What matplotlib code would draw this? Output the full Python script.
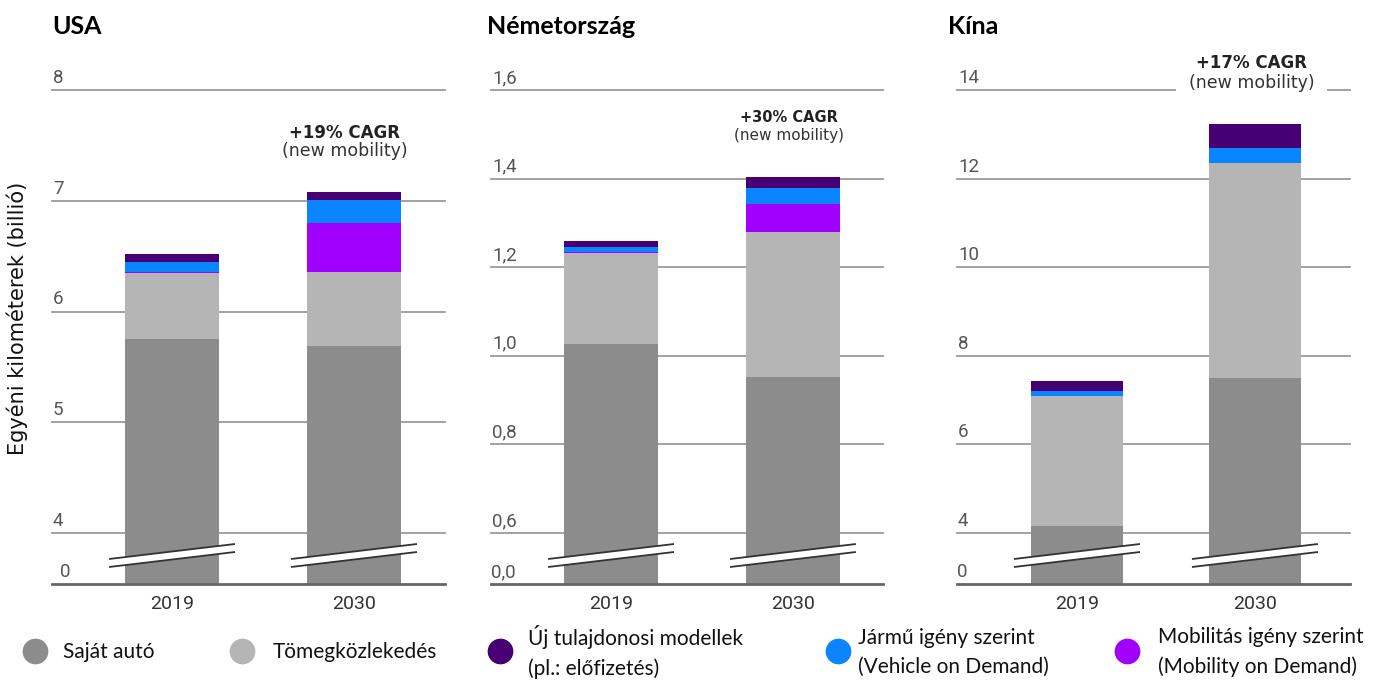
import numpy as np
import matplotlib
matplotlib.use('Agg')
import matplotlib.pyplot as plt

W, H, DPI = 1375, 693, 100

# ---------------- data ----------------
years = ['2019', '2030']
titles = ['USA', 'Németország', 'Kína']
cagr_labels = ['+19% CAGR', '+30% CAGR', '+17% CAGR']
cagr_sub = '(new mobility)'

legend_labels = ['Saját autó', 'Tömegközlekedés',
                 'Új tulajdonosi modellek\n(pl.: előfizetés)',
                 'Jármű igény szerint\n(Vehicle on Demand)',
                 'Mobilitás igény szerint\n(Mobility on Demand)']

usa_own = [5.75, 5.69]
usa_public = [0.60, 0.67]
usa_mod = [0.01, 0.44]
usa_vod = [0.09, 0.21]
usa_newown = [0.07, 0.07]

ger_own = [1.027, 0.953]
ger_public = [0.205, 0.326]
ger_mod = [0.002, 0.063]
ger_vod = [0.011, 0.036]
ger_newown = [0.014, 0.025]

chn_own = [4.16, 7.51]
chn_public = [2.94, 4.85]
chn_mod = [0.0, 0.0]
chn_vod = [0.11, 0.34]
chn_newown = [0.21, 0.54]

usa_ticks = [0, 4, 5, 6, 7, 8]
usa_ticklabels = ['0', '4', '5', '6', '7', '8']
ger_ticks = [0, 0.6, 0.8, 1.0, 1.2, 1.4, 1.6]
ger_ticklabels = ['0,0', '0,6', '0,8', '1,0', '1,2', '1,4', '1,6']
chn_ticks = [0, 4, 6, 8, 10, 12, 14]
chn_ticklabels = ['0', '4', '6', '8', '10', '12', '14']

# ---------------- style ----------------
C_OWN = '#8c8c8c'
C_PUB = '#b5b5b5'
C_NEW = '#460073'
C_VOD = '#0a84ff'
C_MOD = '#a100ff'
GRID = '#9a9a9a'

fig = plt.figure(figsize=(W / DPI, H / DPI), dpi=DPI)


def px_axes(l, r, t, b):
    return fig.add_axes([l / W, 1 - b / H, (r - l) / W, (b - t) / H])


def make_scale(b, r):
    def fwd(v):
        v = np.asarray(v, dtype=float)
        return np.where(v >= b, v, b - (b - v) * r)

    def inv(u):
        u = np.asarray(u, dtype=float)
        return np.where(u >= b, u, b - (b - u) / r)
    return fwd, inv


panels = [
    dict(box=(52, 445), xlim=(-0.66, 1.5), ticks=usa_ticks, labels=usa_ticklabels,
         stack=[usa_own, usa_public, usa_mod, usa_vod, usa_newown],
         cagr=cagr_labels[0], cx=0.95, cfs=12, cy=(7.61, 7.45), zdx=8, bbox=False,
         title=titles[0], tx=52, bhw=0.346),
    dict(box=(491, 883), xlim=(-0.66, 1.495), ticks=ger_ticks, labels=ger_ticklabels,
         stack=[ger_own, ger_public, ger_mod, ger_vod, ger_newown],
         cagr=cagr_labels[1], cx=0.98, cfs=10.5, cy=(1.538, 1.497), zdx=0, bbox=False,
         title=titles[1], tx=487, bhw=0.346),
    dict(box=(957, 1350), xlim=(-0.674, 1.534), ticks=chn_ticks, labels=chn_ticklabels,
         stack=[chn_own, chn_public, chn_mod, chn_vod, chn_newown],
         cagr=cagr_labels[2], cx=0.98, cfs=12, cy=(14.6, 14.15), zdx=0, bbox=True,
         title=titles[2], tx=948, bhw=0.354),
]
colors = [C_OWN, C_PUB, C_MOD, C_VOD, C_NEW]

TOP_PX, BREAK_PX, BASE_PX = 90, 533, 584
ZONE = BASE_PX - BREAK_PX

for p in panels:
    l, r = p['box']
    ax = px_axes(l, r, TOP_PX, BASE_PX)
    ticks = p['ticks']
    b = ticks[1]
    top = ticks[-1]
    comp = (top - b) * ZONE / (BREAK_PX - TOP_PX)
    ratio = comp / b
    ax.set_yscale('function', functions=make_scale(b, ratio))
    x = np.arange(len(years))
    bottom = np.zeros(len(years))
    for vals, col in zip(p['stack'], colors):
        vals = np.asarray(vals, dtype=float)
        ax.bar(x, vals, width=0.52, bottom=bottom, color=col, linewidth=0, zorder=2)
        bottom = bottom + vals
    for t in ticks[1:]:
        ax.axhline(t, color=GRID, lw=1.3, zorder=1, clip_on=False)
    ax.axhline(0, color='#666666', lw=2.0, zorder=3, clip_on=False)
    for t, lab in zip(ticks, p['labels']):
        dx = p['zdx'] if t == 0 else 1
        ax.annotate(lab, xy=(0, t), xycoords=('axes fraction', 'data'),
                    xytext=(dx, 7), textcoords='offset pixels', ha='left', va='baseline',
                    fontsize=13.5, color='#555555', family='Roboto', annotation_clip=False)
    # axis break marks
    hw = p['bhw']
    for xc in x:
        xs = [xc - hw, xc + hw]
        up = [b * 25 / ZONE, b * 40 / ZONE]
        lo = [b * 17 / ZONE, b * 32 / ZONE]
        ax.fill([xs[0], xs[1], xs[1], xs[0]], [lo[0], lo[1], up[1], up[0]],
                color='white', lw=0, zorder=4, clip_on=False)
        ax.plot(xs, up, color='#333333', lw=1.3, zorder=5, clip_on=False, solid_capstyle='butt')
        ax.plot(xs, lo, color='#333333', lw=1.3, zorder=5, clip_on=False, solid_capstyle='butt')
    # CAGR annotation
    bb = dict(fc='white', ec='none', pad=9) if p['bbox'] else None
    ax.text(p['cx'], p['cy'][1], cagr_sub, ha='center', va='center', fontsize=p['cfs'] + 0.5,
            color='#333333', family='DejaVu Sans', zorder=6, bbox=bb)
    ax.text(p['cx'], p['cy'][0], p['cagr'], ha='center', va='center', fontsize=p['cfs'],
            color='#222222', family='DejaVu Sans', weight='bold', zorder=7)
    ax.set_xlim(*p['xlim'])
    ax.set_ylim(0, top)
    ax.set_yticks([])
    ax.set_xticks(x, years)
    ax.tick_params(axis='x', length=0, pad=8, labelsize=14, labelcolor='#333333')
    for lbl in ax.get_xticklabels():
        lbl.set_family('Roboto')
    for s in ax.spines.values():
        s.set_visible(False)
    ax.patch.set_alpha(0)
    fig.text(p['tx'] / W, 1 - 34 / H, p['title'], fontsize=18, weight='bold',
             family='Lato', va='baseline', ha='left', color='black')

fig.text(17 / W, 1 - 318 / H, 'Egyéni kilométerek (billió)', rotation=90,
         ha='center', va='center', fontsize=15, family='DejaVu Sans', color='#111111')

# ---------------- legend ----------------
lax = fig.add_axes([0, 0, 1, 1])
lax.set_xlim(0, W)
lax.set_ylim(H, 0)
lax.axis('off')
lax.patch.set_alpha(0)
leg_colors = [C_OWN, C_PUB, C_NEW, C_VOD, C_MOD]
leg_cx = [35, 242, 500, 838, 1127]
leg_tx = [63, 273, 528, 858, 1158]
for col, cx, tx, lab in zip(leg_colors, leg_cx, leg_tx, legend_labels):
    lax.plot([cx], [651], marker='o', markersize=17.5, color=col, linestyle='none')
    lax.text(tx, 652, lab, ha='left', va='center', fontsize=15, family='Lato',
             color='#111111', linespacing=1.55)

fig.savefig('out.png', dpi=DPI)
